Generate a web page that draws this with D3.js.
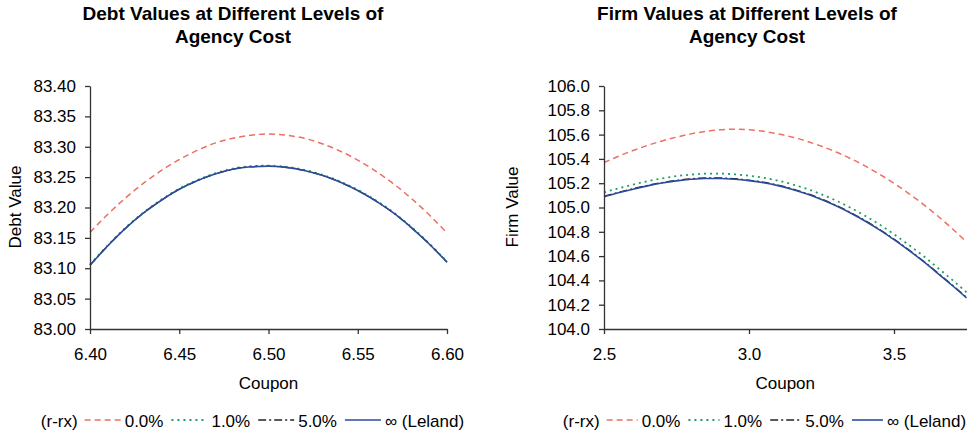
<!DOCTYPE html>
<html>
<head>
<meta charset="utf-8">
<script src="https://cdn.jsdelivr.net/npm/d3@7"></script>
<style>
  html, body { margin: 0; padding: 0; background: #fff; }
  svg { display: block; font-family: "Liberation Sans", Arial, sans-serif; }
</style>
</head>
<body>
<svg id="chart" width="977" height="435"></svg>
<script>
// ---- Data ----
const debtCoupon = [6.40, 6.41, 6.42, 6.43, 6.44, 6.45, 6.46, 6.47, 6.48, 6.49, 6.50,
                    6.51, 6.52, 6.53, 6.54, 6.55, 6.56, 6.57, 6.58, 6.59, 6.60];
const debtR0      = [83.159, 83.189, 83.216, 83.240, 83.261, 83.279, 83.294, 83.306, 83.314, 83.319, 83.321,
                     83.319, 83.314, 83.305, 83.293, 83.278, 83.260, 83.239, 83.215, 83.188, 83.158];
const debtR1      = [83.106, 83.138, 83.167, 83.192, 83.213, 83.231, 83.245, 83.256, 83.264, 83.268, 83.269,
                     83.267, 83.262, 83.254, 83.243, 83.229, 83.212, 83.192, 83.168, 83.141, 83.111];
const debtR5      = [83.105, 83.137, 83.166, 83.191, 83.212, 83.230, 83.244, 83.255, 83.263, 83.267, 83.268,
                     83.266, 83.261, 83.253, 83.242, 83.228, 83.211, 83.191, 83.167, 83.140, 83.110];
const debtLeland  = [83.105, 83.137, 83.166, 83.191, 83.212, 83.230, 83.244, 83.255, 83.263, 83.267, 83.268,
                     83.266, 83.261, 83.253, 83.242, 83.228, 83.211, 83.191, 83.167, 83.140, 83.110];

const firmCoupon = [2.50, 2.55, 2.60, 2.65, 2.70, 2.75, 2.80, 2.85, 2.90, 2.95, 3.00, 3.05, 3.10,
                    3.15, 3.20, 3.25, 3.30, 3.35, 3.40, 3.45, 3.50, 3.55, 3.60, 3.65, 3.70, 3.75];
const firmR0     = [105.370, 105.422, 105.469, 105.511, 105.548, 105.579, 105.606, 105.626, 105.639, 105.644,
                    105.640, 105.627, 105.606, 105.579, 105.545, 105.504, 105.457, 105.403, 105.342, 105.274,
                    105.199, 105.117, 105.028, 104.932, 104.828, 104.716];
const firmR1     = [105.125, 105.158, 105.189, 105.216, 105.239, 105.258, 105.271, 105.278, 105.279, 105.273,
                    105.261, 105.245, 105.221, 105.190, 105.153, 105.108, 105.057, 104.998, 104.932, 104.860,
                    104.780, 104.694, 104.603, 104.505, 104.406, 104.302];
const firmR5     = [105.092, 105.125, 105.155, 105.182, 105.205, 105.223, 105.236, 105.243, 105.243, 105.237,
                    105.225, 105.208, 105.184, 105.153, 105.115, 105.070, 105.018, 104.959, 104.893, 104.820,
                    104.740, 104.654, 104.562, 104.464, 104.364, 104.260];
const firmLeland = [105.088, 105.121, 105.151, 105.178, 105.201, 105.219, 105.232, 105.239, 105.239, 105.233,
                    105.221, 105.204, 105.180, 105.149, 105.111, 105.066, 105.014, 104.955, 104.889, 104.816,
                    104.736, 104.650, 104.558, 104.460, 104.360, 104.256];

const debtYTicks = [83.00, 83.05, 83.10, 83.15, 83.20, 83.25, 83.30, 83.35, 83.40];
const debtXTicks = [6.40, 6.45, 6.50, 6.55, 6.60];
const firmYTicks = [104.0, 104.2, 104.4, 104.6, 104.8, 105.0, 105.2, 105.4, 105.6, 105.8, 106.0];
const firmXTicks = [2.5, 3.0, 3.5];

const seriesNames = ["0.0%", "1.0%", "5.0%", "\u221E (Leland)"];
const legendTitle = "(r-rx)";

// ---- Styles ----
const seriesStyle = [
  { color: "#EE6F62", dash: "6,4", width: 1.5 },
  { color: "#1E9E5E", dash: "2,4", width: 1.8 },
  { color: "#222222", dash: "8,3,2,3", width: 1.3 },
  { color: "#2B4C9C", dash: null, width: 1.6 }
];

const svg = d3.select("#chart");
const FONT = 17;

function drawPanel(cfg) {
  const g = svg.append("g");
  const x = d3.scaleLinear().domain(cfg.xDomain).range([cfg.left, cfg.right]);
  const y = d3.scaleLinear().domain(cfg.yDomain).range([cfg.bottom, cfg.top]);

  // Title
  const t = g.append("text")
    .attr("x", cfg.titleX).attr("y", 20)
    .attr("text-anchor", "middle")
    .attr("font-size", 19).attr("font-weight", "bold").attr("fill", "#000");
  t.append("tspan").attr("x", cfg.titleX).attr("y", 20).text(cfg.title[0]);
  t.append("tspan").attr("x", cfg.titleX).attr("y", 43).text(cfg.title[1]);

  // Lines
  const series = [cfg.s0, cfg.s1, cfg.s2, cfg.s3];
  const line = d3.line().x(d => x(d[0])).y(d => y(d[1])).curve(d3.curveMonotoneX);
  series.forEach((vals, i) => {
    const pts = cfg.xs.map((c, k) => [c, vals[k]]);
    const st = seriesStyle[i];
    g.append("path").datum(pts)
      .attr("d", line)
      .attr("fill", "none")
      .attr("stroke", st.color)
      .attr("stroke-width", st.width)
      .attr("stroke-dasharray", st.dash);
  });

  // Axes
  const xAxis = d3.axisBottom(x).tickValues(cfg.xTicks).tickFormat(d3.format(cfg.xFmt))
    .tickSizeInner(5).tickSizeOuter(0).tickPadding(14);
  const yAxis = d3.axisLeft(y).tickValues(cfg.yTicks).tickFormat(d3.format(cfg.yFmt))
    .tickSizeInner(5).tickSizeOuter(0).tickPadding(9);
  const gx = g.append("g").attr("transform", `translate(0,${cfg.bottom})`).call(xAxis);
  const gy = g.append("g").attr("transform", `translate(${cfg.left},0)`).call(yAxis);
  [gx, gy].forEach(a => {
    a.selectAll("path, line").attr("stroke", "#333").attr("stroke-width", 1.3);
    a.selectAll("text").attr("font-size", FONT).attr("fill", "#000")
      .attr("font-family", "Liberation Sans, Arial, sans-serif");
  });

  // Axis titles
  g.append("text").attr("x", (cfg.left + cfg.right) / 2).attr("y", 389)
    .attr("text-anchor", "middle").attr("font-size", FONT).attr("fill", "#000").text("Coupon");
  g.append("text").attr("transform", `translate(${cfg.yLabelX},207) rotate(-90)`)
    .attr("text-anchor", "middle").attr("font-size", FONT).attr("fill", "#000").text(cfg.yLabel);

  // Legend (flow layout)
  const lg = g.append("g");
  let cx = 0;
  const ly = 427, lineY = 420;
  const tt = lg.append("text").attr("x", cx).attr("y", ly).attr("font-size", FONT).text(legendTitle);
  cx += tt.node().getComputedTextLength() + 7;
  seriesNames.forEach((name, i) => {
    const st = seriesStyle[i];
    lg.append("line").attr("x1", cx).attr("x2", cx + cfg.legLine)
      .attr("y1", lineY).attr("y2", lineY)
      .attr("stroke", st.color).attr("stroke-width", st.width)
      .attr("stroke-dasharray", st.dash);
    cx += cfg.legLine + 4;
    const tx = lg.append("text").attr("x", cx).attr("y", ly).attr("font-size", FONT).text(name);
    cx += tx.node().getComputedTextLength() + 8;
  });
  const total = cx - 8;
  lg.attr("transform", `translate(${cfg.legCenter - total / 2},0)`);
}

drawPanel({
  title: ["Debt Values at Different Levels of", "Agency Cost"],
  titleX: 233,
  xs: debtCoupon, s0: debtR0, s1: debtR1, s2: debtR5, s3: debtLeland,
  xDomain: [6.40, 6.60], yDomain: [83.00, 83.40],
  left: 90, right: 447, top: 86, bottom: 329,
  xTicks: debtXTicks, yTicks: debtYTicks, xFmt: ".2f", yFmt: ".2f",
  yLabel: "Debt Value", yLabelX: 21,
  legCenter: 252.5, legLine: 36
});

drawPanel({
  title: ["Firm Values at Different Levels of", "Agency Cost"],
  titleX: 747,
  xs: firmCoupon, s0: firmR0, s1: firmR1, s2: firmR5, s3: firmLeland,
  xDomain: [2.5, 3.75], yDomain: [104.0, 106.0],
  left: 604, right: 966.5, top: 86, bottom: 329,
  xTicks: firmXTicks, yTicks: firmYTicks, xFmt: ".1f", yFmt: ".1f",
  yLabel: "Firm Value", yLabelX: 518,
  legCenter: 764.5, legLine: 31
});
</script>
</body>
</html>
